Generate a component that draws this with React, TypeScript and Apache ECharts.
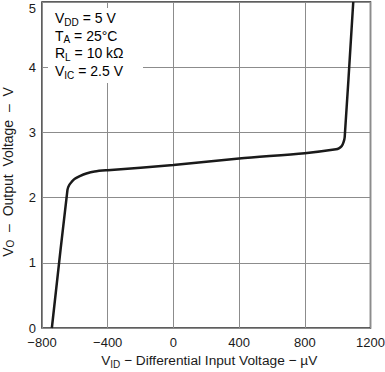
import React, { useEffect, useRef } from "react";
import * as echarts from "echarts";

const xValues = [-740, -645, -635, -620, -600, -570, -530, -480, -400, 0, 400, 800, 990, 1010, 1025, 1036, 1043, 1095];
const yValues = [0, 2.12, 2.19, 2.24, 2.29, 2.33, 2.37, 2.4, 2.42, 2.5, 2.6, 2.68, 2.74, 2.76, 2.79, 2.85, 2.93, 5.0];
const xTicks = { min: -800, max: 1200, interval: 400 };
const yTicks = { min: 0, max: 5, interval: 1 };
const conditions = [
  ["V", "DD", " = 5 V"],
  ["T", "A", " = 25°C"],
  ["R", "L", " = 10 kΩ"],
  ["V", "IC", " = 2.5 V"],
];

const FONT = "Liberation Sans, Arial, Helvetica, sans-serif";

export default function App() {
  const ref = useRef<HTMLDivElement>(null);
  useEffect(() => {
    if (!ref.current) return;
    const chart = echarts.init(ref.current, null, { renderer: "svg" });
    const mkRich = (fs: number, sub: number, pad: number) => ({
      n: { fontSize: fs, fontFamily: FONT, color: "#1a1a1a" },
      s: { fontSize: sub, fontFamily: FONT, color: "#1a1a1a", padding: [pad, 0, 0, 0] },
    });
    const condTexts = conditions.map((c, i) => ({
      type: "text",
      left: 55,
      top: 11 + i * 17.7,
      style: {
        text: `{n|${c[0]}}{s|${c[1]}}{n|${c[2]}}`,
        rich: mkRich(14, 10, 8),
      },
      z: 100,
    }));
    chart.setOption({
      animation: false,
      backgroundColor: "#fff",
      grid: {
        left: 42,
        right: 14.5,
        top: 2,
        bottom: 44,
        show: true,
        borderColor: "#2a2a2a",
        borderWidth: 1.5,
        backgroundColor: "transparent",
        containLabel: false,
        outerBoundsMode: "none",
      },
      xAxis: {
        type: "value",
        min: xTicks.min,
        max: xTicks.max,
        interval: xTicks.interval,
        axisLine: { show: false },
        axisTick: { show: false },
        splitLine: { show: true, lineStyle: { color: "#8c8c8c", width: 1 } },
        axisLabel: {
          margin: 8,
          fontSize: 13,
          fontFamily: FONT,
          color: "#1a1a1a",
          formatter: (v: number) => (v < 0 ? "\u2212" + Math.abs(v) : String(v)),
        },
        name: "{n|V}{s|ID}{n| \u2212 Differential Input Voltage \u2212 µV}",
        nameLocation: "middle",
        nameGap: 19,
        nameTextStyle: { rich: mkRich(13.7, 10, 8), verticalAlign: "top", padding: [0, 0, 0, 6] },
      },
      yAxis: {
        type: "value",
        min: yTicks.min,
        max: yTicks.max,
        interval: yTicks.interval,
        axisLine: { show: false },
        axisTick: { show: false },
        splitLine: { show: true, lineStyle: { color: "#8c8c8c", width: 1 } },
        axisLabel: {
          margin: 6,
          fontSize: 13,
          fontFamily: FONT,
          color: "#1a1a1a",
          verticalAlignMaxLabel: "top",
        },
        name: "{n|V}{s|O}{n|  \u2013  Output  Voltage  \u2013  V}",
        nameLocation: "middle",
        nameRotate: 90,
        nameGap: 27,
        nameTextStyle: { rich: mkRich(14, 10, 4), padding: [0, 14, 0, 0] },
      },
      graphic: [
        {
          type: "rect",
          shape: { x: 48, y: 8, width: 95, height: 75 },
          style: { fill: "#fff" },
          z: 99,
        },
        ...condTexts,
      ],
      series: [
        {
          type: "line",
          data: xValues.map((x, i) => [x, yValues[i]]),
          showSymbol: false,
          smooth: 0.3,
          lineStyle: { color: "#1a1a1a", width: 2.5 },
          clip: true,
          z: 50,
        },
      ],
    });
    return () => chart.dispose();
  }, []);
  return (
    <div
      ref={ref}
      style={{ position: "fixed", left: 0, top: 0, width: 385, height: 372, background: "#fff" }}
    />
  );
}
